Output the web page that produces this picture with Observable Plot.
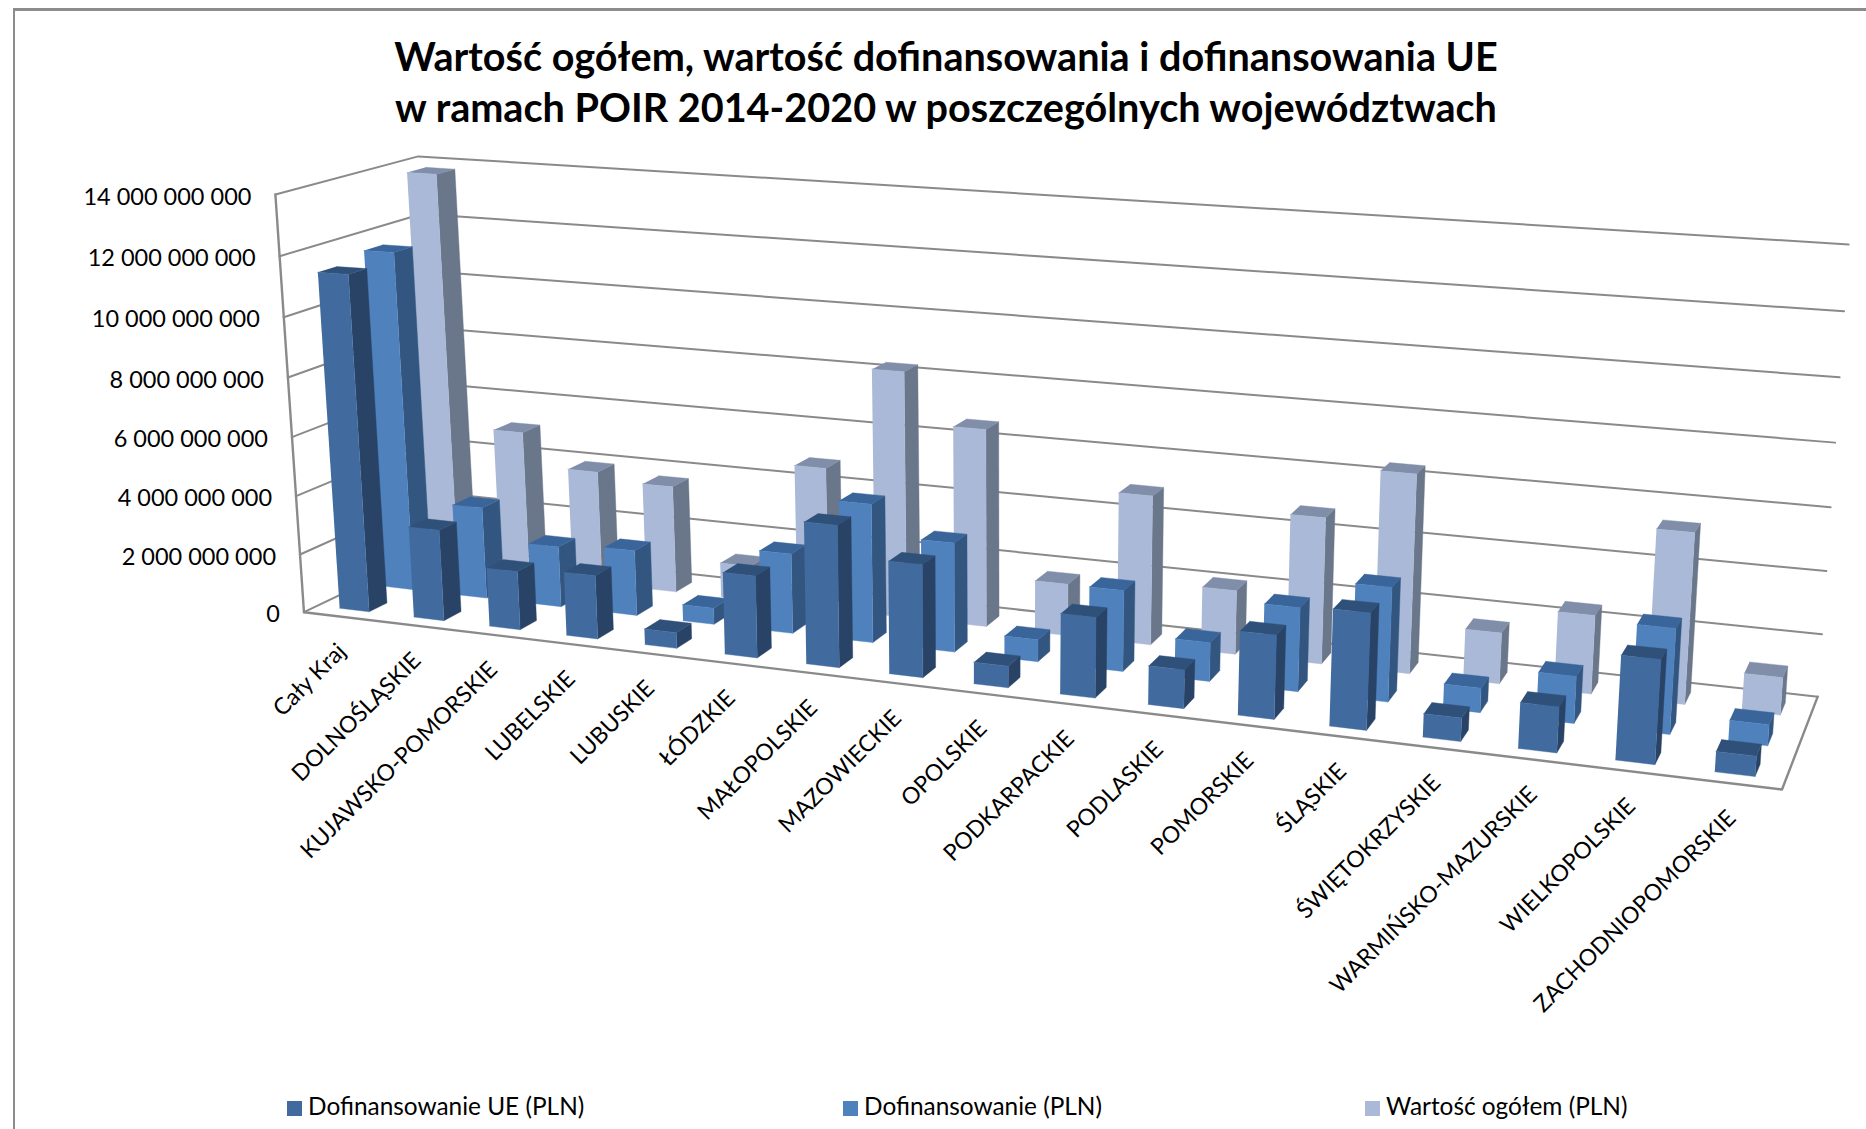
<!DOCTYPE html>
<html lang="pl">
<head>
<meta charset="utf-8">
<script src="https://cdn.jsdelivr.net/npm/d3@7"></script>
<script src="https://cdn.jsdelivr.net/npm/@observablehq/plot@0.6"></script>
<style>
  html, body { margin: 0; padding: 0; background: #fff; }
  #page { position: relative; width: 1866px; height: 1129px; overflow: hidden; font-family: Lato, sans-serif; color: #000; }
  #frame { position: absolute; left: 13px; top: 8px; width: 1900px; height: 1200px; border-left: 2px solid #8c8c8c; border-top: 3px solid #8c8c8c; }
  #chart { position: absolute; left: 0; top: 0; }
  #title { position: absolute; left: 0; width: 1866px; top: 30px; text-align: center; font-weight: 700; font-size: 39.6px; line-height: 51px; white-space: nowrap; transform: translateX(13px); }
  .legend { position: absolute; top: 1093px; font-size: 24.4px; line-height: 26px; white-space: nowrap; }
  .legend i { display: inline-block; width: 15px; height: 15px; margin-right: 6px; vertical-align: -1px; }
</style>
</head>
<body>
<div id="page">
  <div id="frame"></div>
  <div id="chart"></div>
  <div id="title">Wartość ogółem, wartość dofinansowania i dofinansowania UE<br>w ramach POIR 2014-2020 w poszczególnych województwach</div>
  <div id="legend"></div>
</div>
<script>
const categories = ["Cały Kraj","DOLNOŚLĄSKIE","KUJAWSKO-POMORSKIE","LUBELSKIE","LUBUSKIE","ŁÓDZKIE","MAŁOPOLSKIE","MAZOWIECKIE","OPOLSKIE","PODKARPACKIE","PODLASKIE","POMORSKIE","ŚLĄSKIE","ŚWIĘTOKRZYSKIE","WARMIŃSKO-MAZURSKIE","WIELKOPOLSKIE","ZACHODNIOPOMORSKIE"];
const seriesNames = ["Dofinansowanie UE (PLN)","Dofinansowanie (PLN)","Wartość ogółem (PLN)"];
const dofinansowanieUE = [11380000000,3090000000,1970000000,2120000000,520000000,2680000000,4580000000,3600000000,685000000,2520000000,1200000000,2570000000,3530000000,705000000,1360000000,3050000000,590000000];
const dofinansowanie  = [11630000000,3150000000,2070000000,2220000000,550000000,2670000000,4580000000,3580000000,715000000,2610000000,1240000000,2650000000,3570000000,757000000,1440000000,3200000000,633000000];
const wartoscOgolem   = [13800000000,5090000000,3950000000,3690000000,1190000000,4830000000,8300000000,6620000000,1730000000,4930000000,2100000000,4750000000,6400000000,1630000000,2490000000,5360000000,1170000000];
const ticks = [0,2000000000,4000000000,6000000000,8000000000,10000000000,12000000000,14000000000];

const maxValue = 14000000000;
const palette = [
  {front:"#416b9e", side:"#294366", top:"#2f5179"},
  {front:"#4f81bd", side:"#325680", top:"#39659a"},
  {front:"#aab9d7", side:"#6a7689", top:"#808ea9"}
];
const k = 1.19005;
// the eight corners of the drawn box
const box = {
  flb:[255*k,514*k], blb:[370*k,459*k], frb:[1497*k,663*k], brb:[1527*k,585*k],
  flt:[231*k,163*k], blt:[351*k,131*k], frt:[1526*k,233*k], brt:[1553*k,205*k]
};
const persp = 1.18, perspValue = 1.04;
const along = (t, c) => t / (t + c * (1 - t));
const mix = (a, b, f) => [a[0] + (b[0] - a[0]) * f, a[1] + (b[1] - a[1]) * f];
function project(t, v, w) {
  const u = along(t, persp);
  const lo = mix(mix(box.flb, box.frb, u), mix(box.blb, box.brb, u), v);
  const hi = mix(mix(box.flt, box.frt, u), mix(box.blt, box.brt, u), v);
  const p = mix(lo, hi, along(w, perspValue));
  return {x: p[0], y: p[1]};
}

// bar faces, from the back row to the front row
const n = categories.length;
const faces = [];
[wartoscOgolem, dofinansowanie, dofinansowanieUE].forEach((values, r) => {
  const s = 2 - r;
  values.forEach((value, i) => {
    const t0 = (i + .3) / n, t1 = (i + .7) / n, v0 = (s + .3) / 3, v1 = (s + .7) / 3, w = value / maxValue;
    const add = (name, color, pts) => pts.forEach(q => faces.push({id: `${s}-${i}-${name}`, color, ...project(...q)}));
    add("side", palette[s].side, [[t1,v0,0],[t1,v1,0],[t1,v1,w],[t1,v0,w]]);
    add("top", palette[s].top, [[t0,v0,w],[t1,v0,w],[t1,v1,w],[t0,v1,w]]);
    add("front", palette[s].front, [[t0,v0,0],[t1,v0,0],[t1,v0,w],[t0,v0,w]]);
  });
});

// gridlines on the two walls
const grid = ticks.flatMap(tick => {
  const w = tick / maxValue;
  return [[0,0,w],[0,1,w],[1,1,w]].map(q => ({tick, ...project(...q)}));
});
const edges = [
  ...ticks.slice(0, -1).flatMap((tick, i) => [[0,0,tick / maxValue],[0,0,ticks[i + 1] / maxValue]].map(q => ({id: "wall" + i, ...project(...q)}))),
  ...[[0,0,0],[1,0,0],[1,1,0]].map(q => ({id:"floor", ...project(...q)}))
];
const tickLabels = ticks.map(tick => ({label: d3.format(",")(tick).replace(/,/g, " "), ...project(0, 0, tick / maxValue)}));
const catLabels = categories.map((name, i) => ({name, ...project((i + .5) / n, 0, 0)}));

const plot = Plot.plot({
  width: 1866, height: 1060,
  margin: 0,
  style: {background: "transparent", fontFamily: "Lato, sans-serif", overflow: "visible"},
  x: {domain: [0, 1866], range: [0, 1866], axis: null},
  y: {domain: [0, 1060], range: [0, 1060], axis: null},
  color: {type: "identity"},
  marks: [
    Plot.line(grid, {x: "x", y: "y", z: "tick", stroke: "#8a8a8a", strokeWidth: 2, curve: "linear"}),
    Plot.line(edges, {x: "x", y: "y", z: "id", stroke: "#8a8a8a", strokeWidth: 2.4, curve: "linear"}),
    Plot.line(faces, {x: "x", y: "y", z: "id", fill: "color", stroke: "color", strokeWidth: .4, curve: "linear"}),
    Plot.text(tickLabels, {x: "x", y: "y", text: "label", textAnchor: "end", dx: -24, dy: 2.5, fontSize: 23.5, fill: "#000"}),
    Plot.text(catLabels, {x: "x", y: "y", text: "name", textAnchor: "end", rotate: -45, dx: 1, dy: 31, fontSize: 23, fill: "#000"})
  ]
});
document.getElementById("chart").append(plot);

const legendX = [287, 843, 1365];
const legend = document.getElementById("legend");
seriesNames.forEach((name, i) => {
  const el = document.createElement("div");
  el.className = "legend";
  el.style.left = legendX[i] + "px";
  el.innerHTML = `<i style="background:${palette[i].front}"></i>${name}`;
  legend.append(el);
});
</script>
</body>
</html>
